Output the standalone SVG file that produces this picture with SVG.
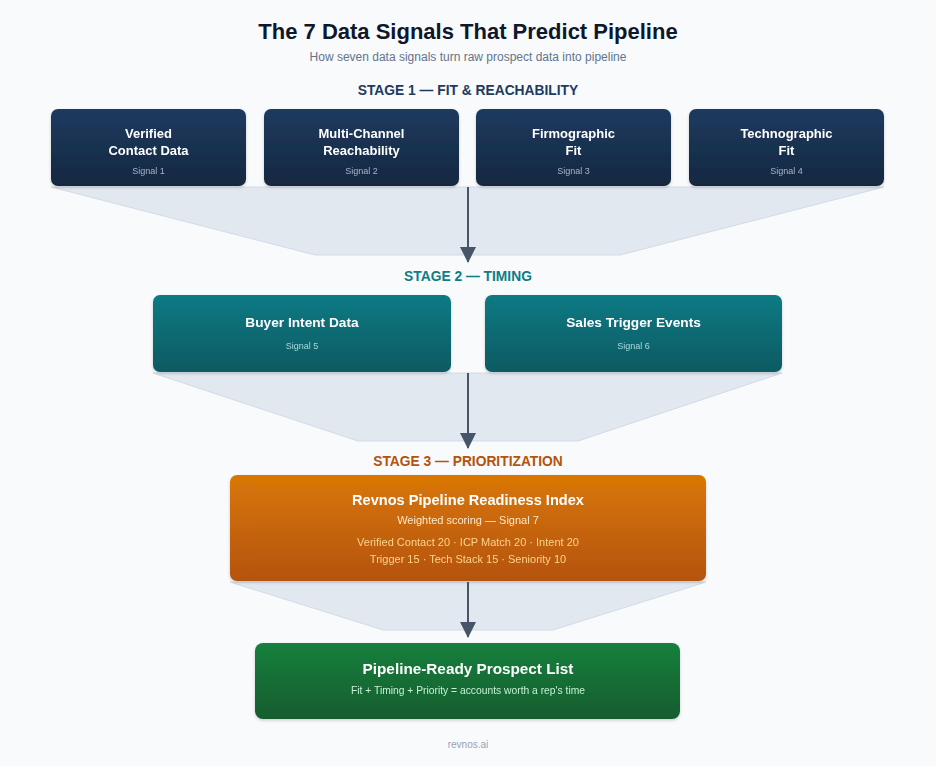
<svg xmlns="http://www.w3.org/2000/svg" width="936" height="766" viewBox="0 0 936 766">
<defs>
<linearGradient id="gNavy" x1="0" y1="0" x2="0" y2="1"><stop offset="0" stop-color="#1e3a5f"/><stop offset="1" stop-color="#142840"/></linearGradient>
<linearGradient id="gTeal" x1="0" y1="0" x2="0" y2="1"><stop offset="0" stop-color="#0f7a84"/><stop offset="1" stop-color="#0b5a62"/></linearGradient>
<linearGradient id="gOrange" x1="0" y1="0" x2="0" y2="1"><stop offset="0" stop-color="#d97706"/><stop offset="1" stop-color="#b4530b"/></linearGradient>
<linearGradient id="gGreen" x1="0" y1="0" x2="0" y2="1"><stop offset="0" stop-color="#17803d"/><stop offset="1" stop-color="#125c2e"/></linearGradient>
<filter id="sh" x="-10%" y="-10%" width="120%" height="130%"><feDropShadow dx="0" dy="1.5" stdDeviation="1.5" flood-color="#0f172a" flood-opacity="0.18"/></filter>
<marker id="ah" viewBox="0 0 16 16" refX="15" refY="8" markerWidth="16" markerHeight="16" markerUnits="userSpaceOnUse" orient="auto"><path d="M0,0 L16,8 L0,16 Z" fill="#475569"/></marker>
</defs>
<style>
text{font-family:"Liberation Sans",Arial,sans-serif;text-anchor:middle}
.title{font-size:22px;font-weight:bold;fill:#0f172a}
.sub{font-size:12px;fill:#64748b}
.stage{font-size:13.8px;font-weight:bold}
.nt{font-size:13px;font-weight:bold;fill:#ffffff}
.nt2{font-size:13.7px;font-weight:bold;fill:#ffffff}
.sig{font-size:9px;fill:#a5b4c8}
.sigt{font-size:9px;fill:#a7d9dc}
.funnel{fill:#e2e8f0;stroke:#cbd5e1;stroke-width:0.8}
.conn{stroke:#475569;stroke-width:2;fill:none}
</style>
<rect width="936" height="766" fill="#f8fafc"/>
<text class="title" x="468" y="39">The 7 Data Signals That Predict Pipeline</text>
<text class="sub" x="468" y="61">How seven data signals turn raw prospect data into pipeline</text>

<text class="stage" x="468" y="95" fill="#1e3a5f">STAGE 1 — FIT &amp; REACHABILITY</text>
<text class="stage" x="468" y="281" fill="#0e7c86">STAGE 2 — TIMING</text>
<text class="stage" x="468" y="466" fill="#b4530b">STAGE 3 — PRIORITIZATION</text>

<g id="funnels">
<polygon class="funnel" points="51,187 884,187 620,255 315,255"/>
<polygon class="funnel" points="153,373 782,373 578,441 358,441"/>
<polygon class="funnel" points="230,582 706,582 553,630 383,630"/>
</g>

<g id="n1" filter="url(#sh)">
<rect x="51" y="109" width="195" height="77" rx="7" fill="url(#gNavy)"/>
<text class="nt" x="148.5" y="138">Verified</text>
<text class="nt" x="148.5" y="155">Contact Data</text>
<text class="sig" x="148.5" y="174">Signal 1</text>
</g>
<g id="n2" filter="url(#sh)">
<rect x="264" y="109" width="195" height="77" rx="7" fill="url(#gNavy)"/>
<text class="nt" x="361.5" y="138">Multi-Channel</text>
<text class="nt" x="361.5" y="155">Reachability</text>
<text class="sig" x="361.5" y="174">Signal 2</text>
</g>
<g id="n3" filter="url(#sh)">
<rect x="476" y="109" width="195" height="77" rx="7" fill="url(#gNavy)"/>
<text class="nt" x="573.5" y="138">Firmographic</text>
<text class="nt" x="573.5" y="155">Fit</text>
<text class="sig" x="573.5" y="174">Signal 3</text>
</g>
<g id="n4" filter="url(#sh)">
<rect x="689" y="109" width="195" height="77" rx="7" fill="url(#gNavy)"/>
<text class="nt" x="786.5" y="138">Technographic</text>
<text class="nt" x="786.5" y="155">Fit</text>
<text class="sig" x="786.5" y="174">Signal 4</text>
</g>

<g id="n5" filter="url(#sh)">
<rect x="153" y="295" width="298" height="77" rx="7" fill="url(#gTeal)"/>
<text class="nt2" x="302" y="327">Buyer Intent Data</text>
<text class="sigt" x="302" y="349">Signal 5</text>
</g>
<g id="n6" filter="url(#sh)">
<rect x="485" y="295" width="297" height="77" rx="7" fill="url(#gTeal)"/>
<text class="nt2" x="633.5" y="327">Sales Trigger Events</text>
<text class="sigt" x="633.5" y="349">Signal 6</text>
</g>

<g id="n7" filter="url(#sh)">
<rect x="230" y="475" width="476" height="106" rx="7" fill="url(#gOrange)"/>
<text x="468" y="505" style="font-size:14.6px;font-weight:bold;fill:#ffffff">Revnos Pipeline Readiness Index</text>
<text x="468" y="524" style="font-size:11px;fill:#fde9cf">Weighted scoring — Signal 7</text>
<text x="468" y="546" style="font-size:11px;fill:#fcd58f">Verified Contact 20 · ICP Match 20 · Intent 20</text>
<text x="468" y="563" style="font-size:11px;fill:#fcd58f">Trigger 15 · Tech Stack 15 · Seniority 10</text>
</g>

<g id="n8" filter="url(#sh)">
<rect x="255" y="643" width="425" height="76" rx="8" fill="url(#gGreen)"/>
<text x="468" y="674" style="font-size:15.3px;font-weight:bold;fill:#ffffff">Pipeline-Ready Prospect List</text>
<text x="468" y="694" style="font-size:10.3px;fill:#c6f0d2">Fit + Timing + Priority = accounts worth a rep's time</text>
</g>

<g id="connectors">
<line class="conn" x1="468" y1="187" x2="468" y2="262" marker-end="url(#ah)"/>
<line class="conn" x1="468" y1="373" x2="468" y2="448" marker-end="url(#ah)"/>
<line class="conn" x1="468" y1="582" x2="468" y2="637" marker-end="url(#ah)"/>
</g>

<text x="468" y="748" style="font-size:10px;fill:#94a3b8">revnos.ai</text>
</svg>
